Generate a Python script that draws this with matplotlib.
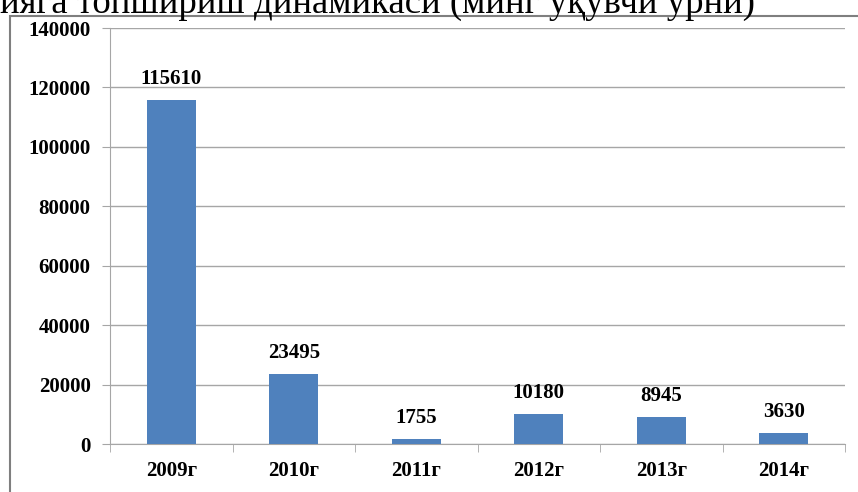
import matplotlib.pyplot as plt
from matplotlib.patches import Rectangle

# data
years = ["2009г", "2010г", "2011г", "2012г", "2013г", "2014г"]
values = [115610, 23495, 1755, 10180, 8945, 3630]
y_ticks = [0, 20000, 40000, 60000, 80000, 100000, 120000, 140000]
title = "ияга топшириш динамикаси (минг ўқувчи ўрни)"

plt.rcParams['font.family'] = ['Liberation Serif', 'DejaVu Serif']

W, H = 858, 492
fig = plt.figure(figsize=(W / 100, H / 100), dpi=100)
ax = fig.add_axes([110 / W, 1 - 444 / H, 735 / W, 416 / H])

x = list(range(len(years)))
ax.bar(x, values, width=0.4, color='#4F81BD', zorder=3)
for xi, v in zip(x, values):
    ax.annotate(str(v), (xi, v), xytext=(0, 8), textcoords='offset points',
                ha='center', va='bottom', fontsize=15, fontweight='bold')

ax.set_xlim(-0.5, len(years) - 0.5)
ax.set_ylim(0, 140000)
ax.set_yticks(y_ticks)
ax.set_yticklabels([str(t) for t in y_ticks], fontsize=15, fontweight='bold')
ax.set_xticks(x)
ax.set_xticklabels(years, fontsize=15, fontweight='bold')
ax.set_xticks([i - 0.5 for i in range(len(years) + 1)], minor=True)
ax.tick_params(axis='x', which='major', length=0, pad=12)
ax.tick_params(axis='x', which='minor', length=6, color='#a6a6a6', direction='out')
ax.tick_params(axis='y', length=6, color='#a6a6a6', pad=8)

ax.grid(axis='y', color='#a6a6a6', linewidth=1, zorder=0)
for side in ['top', 'right']:
    ax.spines[side].set_visible(False)
ax.spines['left'].set_color('#a6a6a6')
ax.spines['bottom'].set_color('#a6a6a6')

# chart frame from the document
fig.patches.append(Rectangle((10 / W, -0.1), 1.1, 1 - 16 / H + 0.1,
                             transform=fig.transFigure, fill=False,
                             edgecolor='#7f7f7f', linewidth=1.5))

# the heading is cut off at the top of the screenshot, as in the reference
fig.text(0, 1 - 13 / H, title, fontsize=26.5, ha='left', va='baseline')

fig.savefig('out.png', dpi=100)
